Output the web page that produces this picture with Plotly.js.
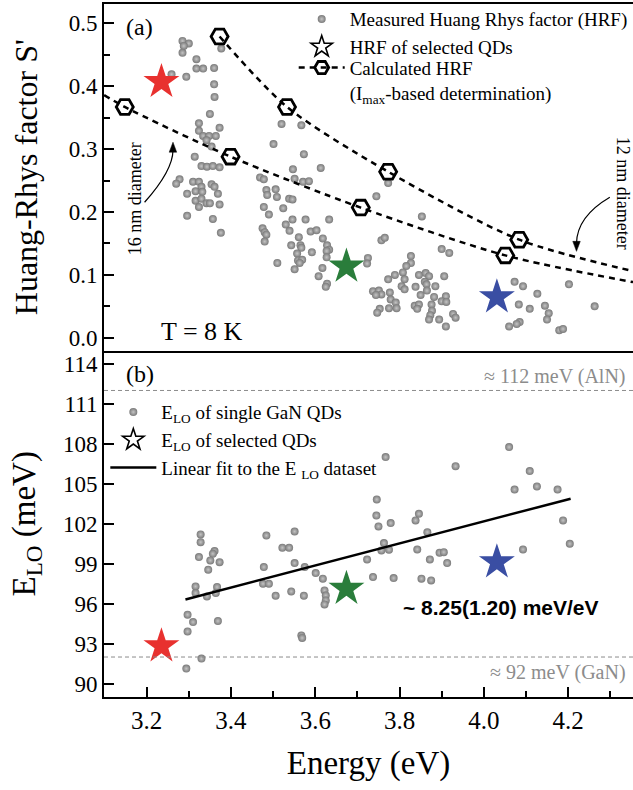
<!DOCTYPE html>
<html><head><meta charset="utf-8">
<script src="https://cdn.plot.ly/plotly-3.0.1.min.js"></script>
<style>html,body{margin:0;padding:0;background:#fff;}#chart{width:633px;height:790px;}</style>
</head><body><div id="chart"></div>
<script>
// ---- Panel (a): measured Huang-Rhys factor ----
const hrfEnergy = [3.285,3.300,3.288,3.285,3.377,3.318,3.318,3.334,3.360,3.259,3.294,3.360,3.361,3.350,3.324,3.373,3.324,3.334,3.348,3.364,3.342,3.354,3.314,3.330,3.343,3.357,3.373,3.278,3.270,3.310,3.324,3.330,3.354,3.361,3.296,3.316,3.332,3.369,3.316,3.330,3.342,3.350,3.373,3.324,3.296,3.357,3.376,
3.520,3.567,3.501,3.573,3.547,3.613,3.469,3.478,3.551,3.571,3.585,3.484,3.506,3.486,3.509,3.538,3.546,3.478,3.524,3.490,3.546,3.577,3.633,3.530,3.475,3.480,3.484,3.539,3.589,3.603,3.561,3.618,3.480,3.543,3.565,3.567,3.628,3.633,3.627,3.592,3.557,3.627,3.559,3.569,3.563,3.510,3.617,3.551,3.608,3.628,3.625,
3.745,3.853,3.773,3.757,3.765,3.900,3.918,3.725,3.723,3.827,3.827,3.816,3.808,3.789,3.773,3.846,3.862,3.870,3.906,3.812,3.860,3.864,3.805,3.812,3.838,3.885,3.865,3.737,3.751,3.757,3.744,3.777,3.850,3.779,3.882,3.910,3.900,3.911,3.791,3.836,3.846,3.842,3.876,3.753,3.747,3.775,3.793,3.877,3.873,3.870,3.894,3.927,3.933,3.910,
4.073,4.093,4.202,4.127,4.083,4.109,4.145,4.154,4.150,4.263,4.085,4.078,4.060,4.179,4.188];
const hrfS = [.472,.468,.464,.453,.460,.443,.428,.428,.429,.419,.415,.403,.383,.356,.341,.334,.329,.321,.321,.321,.314,.304,.288,.273,.272,.273,.271,.252,.245,.248,.248,.240,.244,.240,.229,.233,.232,.229,.218,.221,.214,.214,.212,.208,.194,.189,.167,
.340,.338,.308,.292,.268,.270,.255,.252,.253,.248,.249,.235,.236,.227,.224,.221,.220,.208,.206,.196,.188,.188,.188,.180,.174,.168,.164,.170,.169,.171,.160,.158,.153,.147,.147,.143,.147,.140,.138,.136,.134,.128,.123,.124,.119,.119,.111,.109,.098,.086,.081,
.225,.193,.246,.155,.159,.141,.135,.127,.118,.130,.119,.114,.104,.100,.093,.100,.103,.098,.098,.093,.089,.085,.082,.077,.081,.082,.075,.074,.075,.069,.068,.072,.068,.061,.065,.066,.058,.057,.056,.051,.053,.046,.053,.046,.040,.047,.047,.043,.036,.029,.029,.038,.032,.018,
.089,.082,.085,.070,.053,.046,.051,.039,.029,.050,.025,.022,.018,.012,.014];

// selected QDs (red, green, blue)
const selEnergy = [3.235, 3.674, 4.031];
const selS = [0.407, 0.1135, 0.0647];
const selELO = [92.82, 97.13, 99.12];
const selColors = ['#e8312f', '#2a7d3b', '#3a4ea3'];

// calculated HRF (hexagons) and dashed curves through them
const calc16E = [3.148, 3.399, 3.708, 4.051];
const calc16S = [0.367, 0.288, 0.207, 0.131];
const calc12E = [3.373, 3.533, 3.773, 4.084];
const calc12S = [0.479, 0.367, 0.264, 0.156];
const curve16E = [3.099, 3.148, 3.399, 3.708, 4.051, 4.354];
const curve16S = [0.386, 0.367, 0.288, 0.207, 0.131, 0.0885];
const curve12E = [3.373, 3.533, 3.773, 4.084, 4.354];
const curve12S = [0.479, 0.367, 0.264, 0.156, 0.106];

// ---- Panel (b): E_LO ----
const eloEnergy = [3.328,3.328,3.361,3.357,3.324,3.351,3.373,3.346,3.484,3.551,3.522,3.538,3.551,3.478,3.575,3.601,3.618,4.060,3.767,3.933,4.109,4.073,4.126,4.175,3.746,3.745,3.750,3.779,3.846,3.838,3.866,4.188,4.204,3.763,3.757,3.775,3.842,3.895,3.905,4.093,3.723,3.872,3.913,3.737,3.786,3.852,3.875,3.316,3.316,3.343,3.367,3.364,3.297,3.310,3.297,3.369,3.330,3.294,3.476,3.490,3.506,3.543,3.573,3.567,3.569,3.622,3.625,3.625,3.622];
const eloVal = [101.20,100.62,99.95,99.75,99.50,99.25,99.12,98.55,101.12,101.42,100.20,100.20,99.05,98.75,98.75,98.30,97.88,107.75,107.0,106.32,105.95,104.57,104.80,104.57,103.82,102.62,101.80,102.05,102.75,102.25,101.37,102.25,100.50,100.55,100.0,100.05,100.07,99.83,99.87,100.07,99.32,99.32,99.05,98.0,97.92,97.88,97.75,97.30,96.80,96.55,97.25,96.80,95.18,94.62,93.92,94.70,91.88,91.13,97.50,97.50,96.60,96.92,96.60,93.62,93.43,97.0,96.62,96.25,95.95];
const fitE = [3.292, 4.206];
const fitV = [96.32, 103.88];
const refAlN = 112, refGaN = 92;

const serif = 'Liberation Serif, Times New Roman, serif';
const dotMarker = {color:'#7a7a7a', size:8, gradient:{type:'radial', color:'#c4c4c4'}, line:{width:0}};

const traces = [
  {x:hrfEnergy, y:hrfS, xaxis:'x', yaxis:'y', mode:'markers', marker:dotMarker,
   name:'Measured Huang Rhys factor (HRF)', legend:'legend'},
  {x:[null], y:[null], xaxis:'x', yaxis:'y', mode:'markers',
   marker:{symbol:'star-open', size:16, color:'#000', line:{width:1.6, color:'#000'}},
   name:'HRF of selected QDs', legend:'legend3'},
  {x:[null], y:[null], xaxis:'x', yaxis:'y', mode:'lines+markers',
   line:{color:'#000', width:2.5, dash:'6px,5px'},
   marker:{symbol:'hexagon2-open', size:14, color:'#000', line:{width:2.8, color:'#000'}},
   name:'Calculated HRF<br>(I<sub>max</sub>-based determination)', legend:'legend4'},
  {x:curve16E, y:curve16S, xaxis:'x', yaxis:'y', mode:'lines', line:{color:'#000', width:2.5, dash:'6px,5px', shape:'spline', smoothing:0.8}, showlegend:false},
  {x:curve12E, y:curve12S, xaxis:'x', yaxis:'y', mode:'lines', line:{color:'#000', width:2.5, dash:'6px,5px', shape:'spline', smoothing:0.8}, showlegend:false},
  {x:calc16E.concat(calc12E), y:calc16S.concat(calc12S), xaxis:'x', yaxis:'y', mode:'markers',
   marker:{symbol:'hexagon2-open', size:17, color:'#000', line:{width:2.8, color:'#000'}}, showlegend:false},
  {x:selEnergy, y:selS, xaxis:'x', yaxis:'y', mode:'markers',
   marker:{symbol:'star', size:27, color:selColors, line:{width:0}}, showlegend:false},

  {x:eloEnergy, y:eloVal, xaxis:'x2', yaxis:'y2', mode:'markers', marker:dotMarker,
   name:'E<sub>LO</sub> of single GaN QDs', legend:'legend2', legendgroup:'b1'},
  {x:[null], y:[null], xaxis:'x2', yaxis:'y2', mode:'markers',
   marker:{symbol:'star-open', size:16, color:'#000', line:{width:1.6, color:'#000'}},
   name:'E<sub>LO</sub> of selected QDs', legend:'legend2', legendgroup:'b2'},
  {x:fitE, y:fitV, xaxis:'x2', yaxis:'y2', mode:'lines', line:{color:'#000', width:2.5},
   name:'Linear fit to the E <sub>LO</sub> dataset', legend:'legend2', legendgroup:'b3'},
  {x:selEnergy, y:selELO, xaxis:'x2', yaxis:'y2', mode:'markers',
   marker:{symbol:'star', size:27, color:selColors, line:{width:0}}, showlegend:false}
];

const axisCommon = {showline:true, linecolor:'#000', linewidth:2, ticks:'inside', ticklen:10, tickwidth:2, tickcolor:'#000',
  showgrid:false, zeroline:false, tickfont:{family:serif, size:23, color:'#000'}};

function legendAt(xp, yp, valign) {
  return {x:xp, y:yp, xanchor:'left', yanchor:'top', bgcolor:'rgba(0,0,0,0)', borderwidth:0,
    font:{family:serif, size:19, color:'#000'}, itemwidth:46, valign:valign, tracegroupgap:0, traceorder:'normal'};
}

const layout = {
  width:633, height:790,
  margin:{l:104, r:0, t:4, b:93},
  paper_bgcolor:'#fff', plot_bgcolor:'#fff',
  font:{family:serif, color:'#000'},
  xaxis:Object.assign({}, axisCommon, {domain:[0,1], anchor:'y', range:[3.0987, 4.354], ticks:'', showticklabels:false, mirror:true}),
  yaxis:Object.assign({}, axisCommon, {domain:[0.5,1], anchor:'x', range:[-0.0202, 0.5307], tick0:0, dtick:0.1, tickformat:'.1f',
    minor:{ticks:'inside', dtick:0.05, ticklen:6, tickwidth:2, tickcolor:'#000'},
    title:{text:"Huang-Rhys factor S'", font:{family:serif, size:32}, standoff:21}}),
  xaxis2:Object.assign({}, axisCommon, {domain:[0,1], anchor:'y2', matches:'x', range:[3.0987, 4.354], tick0:3.0, dtick:0.2, tickformat:'.1f',
    tickfont:{family:serif, size:25, color:'#000'},
    minor:{ticks:'inside', dtick:0.1, ticklen:6, tickwidth:2, tickcolor:'#000'},
    title:{text:'Energy (eV)', font:{family:serif, size:33}, standoff:18}}),
  yaxis2:Object.assign({}, axisCommon, {domain:[0,0.5], anchor:'x2', range:[89, 115], tick0:90, dtick:3,
    title:{text:'E<sub>LO</sub> (meV)', font:{family:serif, size:33}, standoff:17}}),
  legend:legendAt(0.3586, 1.0055, 'middle'),
  legend3:legendAt(0.3586, 0.9655, 'middle'),
  legend4:legendAt(0.3586, 0.9355, 'top'),
  legend2:legendAt(0.0025, 0.4384, 'middle'),
  shapes:[
    {type:'line', xref:'paper', x0:0, x1:1, yref:'y2', y0:refAlN, y1:refAlN, line:{color:'#8c8c8c', width:1, dash:'4px,3px'}},
    {type:'line', xref:'paper', x0:0, x1:1, yref:'y2', y0:refGaN, y1:refGaN, line:{color:'#8c8c8c', width:1, dash:'4px,3px'}},
    // curved arrows (16 nm, 12 nm)
    {type:'path', xref:'x', yref:'y', path:'M 3.195,0.2155 Q 3.262,0.266 3.2624,0.2983', line:{color:'#000', width:1.2}},
    {type:'path', xref:'x', yref:'y', path:'M 3.2624,0.3110 L 3.2534,0.2951 L 3.2712,0.2951 Z', fillcolor:'#000', line:{color:'#000', width:0.5}},
    {type:'path', xref:'x', yref:'y', path:'M 4.299,0.2234 Q 4.221,0.1927 4.2199,0.150', line:{color:'#000', width:1.2}},
    {type:'path', xref:'x', yref:'y', path:'M 4.2199,0.1374 L 4.2111,0.1533 L 4.2289,0.1533 Z', fillcolor:'#000', line:{color:'#000', width:0.5}}
  ],
  annotations:[
    {x:3.183, y:0.4946, xref:'x', yref:'y', text:'(a)', showarrow:false, font:{family:serif, size:24, color:'#000'}},
    {x:3.183, y:113.27, xref:'x2', yref:'y2', text:'(b)', showarrow:false, font:{family:serif, size:24, color:'#000'}},
    {x:3.3305, y:0.010, xref:'x', yref:'y', text:'T = 8 K', showarrow:false, font:{family:serif, size:26, color:'#000'}},
    {x:3.174, y:0.2215, xref:'x', yref:'y', text:'16 nm diameter', textangle:-90, showarrow:false, font:{family:serif, size:18, color:'#000'}},
    {x:4.329, y:0.2298, xref:'x', yref:'y', text:'12 nm diameter', textangle:90, showarrow:false, font:{family:serif, size:18, color:'#000'}},
    {x:4.3417, y:113.05, xref:'x2', yref:'y2', xanchor:'right', text:'\u2248 112 meV (AlN)', showarrow:false, font:{family:serif, size:20, color:'#8c8c8c'}},
    {x:4.3417, y:90.87, xref:'x2', yref:'y2', xanchor:'right', text:'\u2248 92 meV (GaN)', showarrow:false, font:{family:serif, size:20, color:'#8c8c8c'}},
    {x:3.803, y:95.75, xref:'x2', yref:'y2', xanchor:'left', text:'<b>~ 8.25(1.20) meV/eV</b>', showarrow:false, font:{family:'Liberation Sans, Arial, sans-serif', size:21, color:'#000'}}
  ]
};

Plotly.newPlot('chart', traces, layout, {displayModeBar:false, staticPlot:true});
</script>
</body></html>
